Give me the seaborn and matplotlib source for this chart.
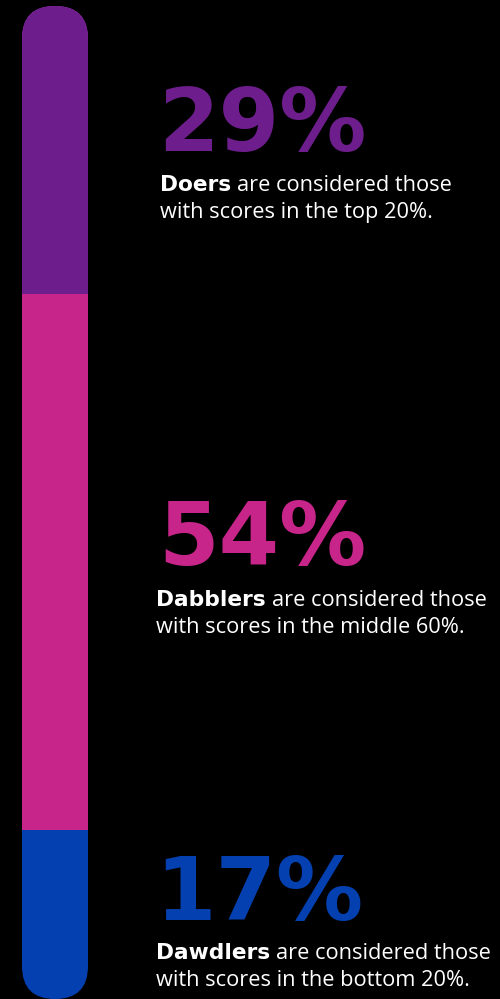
import matplotlib
matplotlib.use("Agg")
import matplotlib.pyplot as plt
import seaborn as sns
import numpy as np
from matplotlib.patches import FancyBboxPatch
from matplotlib.transforms import IdentityTransform

# Segments of the stacked bar, top to bottom
groups = ["Doers", "Dabblers", "Dawdlers"]
shares = [29, 54, 17]
colors = ["#6E1E8C", "#C8258A", "#0540B0"]
line1_rest = ["are considered those", "are considered those", "are considered those"]
line2 = ["with scores in the top 20%.",
         "with scores in the middle 60%.",
         "with scores in the bottom 20%."]

W, H, DPI = 500, 999, 100

sns.set_theme(style="dark")
plt.rcParams["font.family"] = ["Open Sans", "DejaVu Sans"]

fig = plt.figure(figsize=(W / DPI, H / DPI), dpi=DPI, facecolor="black")


def fx(x):
    return x / W


def fy(y):
    return 1 - y / H


# ---- stacked bar with rounded ends ----
bar_left, bar_top, bar_w, bar_bottom = 22, 6, 66, 999
ax = fig.add_axes([fx(bar_left), fy(bar_bottom), bar_w / W, (bar_bottom - bar_top) / H])
ax.set_facecolor("none")

ends = np.cumsum(shares)
# longest cumulative bar first so the shorter ones are layered on top
for end, col in reversed(list(zip(ends, colors))):
    sns.barplot(x=["share"], y=[end], color=col, saturation=1, width=1,
                linewidth=0, ax=ax)
ax.set_ylim(ends[-1], 0)
ax.set_xlim(-0.5, 0.5)
ax.axis("off")

clip = FancyBboxPatch((bar_left, H - bar_bottom), bar_w, bar_bottom - bar_top,
                      boxstyle=f"round,pad=0,rounding_size={bar_w / 2}",
                      transform=IdentityTransform(), facecolor="none",
                      edgecolor="none")
for p in ax.patches:
    p.set_clip_path(clip)

# ---- labels ----
big_px = 87
body_px = 21.8
big_pt = big_px * 72 / DPI
body_pt = body_px * 72 / DPI

big_x = [158, 158, 155]
big_base = [151, 565, 920]
txt_x = [160, 156, 156]
txt_base = [191, 606, 959]
line_gap = 27

renderer = fig.canvas.get_renderer()
for i in range(len(groups)):
    fig.text(fx(big_x[i]), fy(big_base[i]), f"{shares[i]}%",
             color=colors[i], fontsize=big_pt, fontweight="heavy",
             family="DejaVu Sans", va="baseline", ha="left")
    b = fig.text(fx(txt_x[i]), fy(txt_base[i]), groups[i], color="white",
                 fontsize=body_pt, fontweight="bold", family="DejaVu Sans",
                 va="baseline", ha="left")
    x1 = b.get_window_extent(renderer).x1
    fig.text(x1 / W + fx(6), fy(txt_base[i]), line1_rest[i], color="white",
             fontsize=body_pt, family="Open Sans", va="baseline", ha="left")
    fig.text(fx(txt_x[i]), fy(txt_base[i] + line_gap), line2[i], color="white",
             fontsize=body_pt, family="Open Sans", va="baseline", ha="left")

fig.savefig("out.png", dpi=DPI, facecolor="black")
